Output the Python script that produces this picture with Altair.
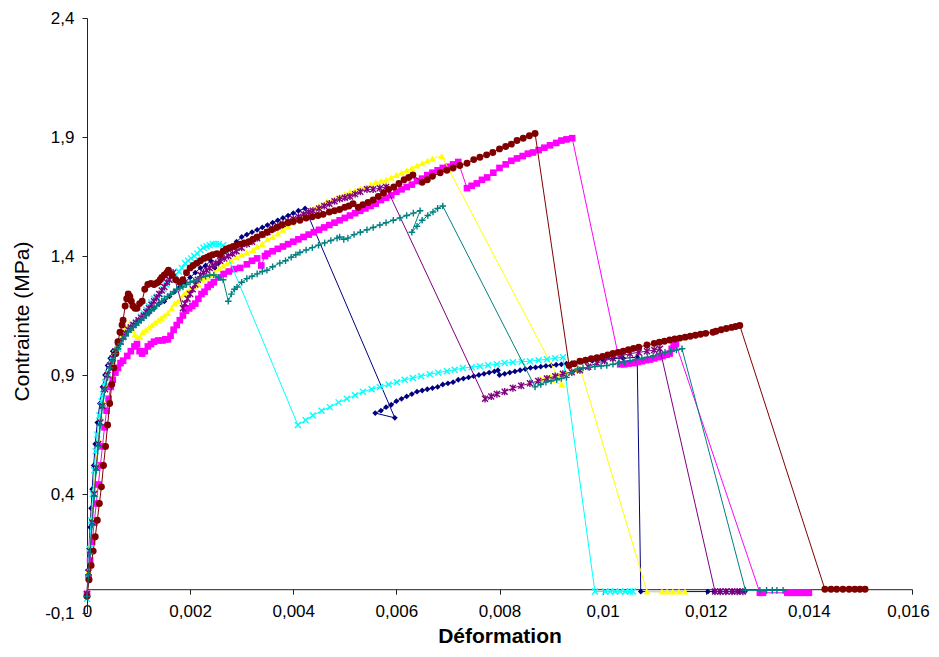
import altair as alt
import pandas as pd

# ---- data (strain, stress MPa) ----
navy = [[0,-0.02],[0.00002,0.08],[0.00004,0.17],[0.00006,0.26],[0.00008,0.34],[0.0001,0.42],[0.00013,0.52],[0.00016,0.61],[0.0002,0.70],[0.00025,0.78],[0.0003,0.85],[0.00035,0.90],[0.0004,0.94],[0.00045,0.97],[0.0005,1.00],[0.0006,1.04],[0.0007,1.07],[0.0008,1.09],[0.0009,1.11],[0.001,1.13],[0.0011,1.15],[0.0012,1.16],[0.0013,1.18],[0.0014,1.20],[0.0015,1.21],[0.0016,1.23],[0.0017,1.25],[0.0018,1.27],[0.0019,1.29],[0.002,1.31],[0.0021,1.33],[0.0022,1.35],[0.0023,1.36],[0.0024,1.38],[0.00248,1.35],[0.00255,1.37],[0.0026,1.40],[0.0027,1.42],[0.0028,1.44],[0.0029,1.46],[0.003,1.48],[0.0031,1.49],[0.0032,1.50],[0.0033,1.51],[0.0034,1.52],[0.0035,1.53],[0.0036,1.54],[0.0037,1.55],[0.0038,1.56],[0.0039,1.57],[0.004,1.58],[0.0041,1.59],[0.00423,1.60],
        [0.00597,0.72],[0.00559,0.74],[0.0057,0.75],[0.0058,0.765],[0.0059,0.775],[0.006,0.79],[0.0061,0.80],[0.0062,0.81],[0.0063,0.82],[0.0064,0.83],[0.0065,0.835],[0.0066,0.84],[0.0067,0.845],[0.0068,0.85],[0.0069,0.86],[0.007,0.865],[0.0071,0.87],[0.0072,0.88],[0.0073,0.885],[0.0074,0.89],[0.0075,0.895],[0.0076,0.90],[0.0077,0.905],[0.0078,0.91],[0.0079,0.915],[0.00797,0.92],[0.0080,0.90],[0.0081,0.905],[0.0082,0.91],[0.0083,0.915],[0.0084,0.92],[0.0085,0.925],[0.0086,0.93],[0.0087,0.932],[0.0088,0.935],[0.0089,0.938],[0.009,0.94],[0.0091,0.943],[0.0092,0.945],[0.0093,0.948],[0.0094,0.95],[0.0096,0.955],[0.0098,0.96],[0.01,0.965],[0.0102,0.97],[0.0104,0.97],[0.01067,0.975],
        [0.01074,-0.01],[0.01204,-0.01],[0.01216,-0.01],[0.01228,-0.01],[0.0124,-0.01],[0.01252,-0.01],[0.01264,-0.01],[0.01276,-0.01]]

magenta = [[0,-0.02],[0.00003,0.05],[0.00006,0.12],[0.0001,0.2],[0.00014,0.28],[0.00018,0.36],[0.00022,0.44],[0.00026,0.52],[0.0003,0.6],[0.00034,0.68],[0.00038,0.75],[0.00042,0.8],[0.00046,0.85],[0.0005,0.88],[0.00055,0.91],[0.0006,0.93],[0.00065,0.95],[0.0007,0.96],[0.00078,0.98],[0.00085,1.0],[0.00092,1.02],[0.00097,1.03],[0.00102,1.0],[0.00107,0.99],[0.00112,1.0],[0.00118,1.02],[0.00124,1.03],[0.0013,1.04],[0.00138,1.045],[0.00146,1.045],[0.00152,1.05],[0.00157,1.05],[0.00162,1.065],[0.00168,1.09],[0.00174,1.11],[0.0018,1.13],[0.00186,1.15],[0.00192,1.17],[0.00198,1.18],[0.00204,1.19],[0.0021,1.20],[0.00216,1.22],[0.00222,1.24],[0.00228,1.25],[0.00234,1.27],[0.0024,1.28],[0.00246,1.29],[0.00255,1.31],[0.00265,1.325],[0.00275,1.335],[0.00285,1.345],[0.00297,1.35],[0.0031,1.365],[0.0032,1.38],[0.0033,1.39],[0.00338,1.36],[0.00345,1.40],[0.0035,1.41],[0.0036,1.42],[0.0037,1.43],[0.0038,1.44],[0.0039,1.45],[0.004,1.46],[0.0041,1.47],[0.0042,1.48],[0.0043,1.49],[0.0044,1.50],[0.0045,1.51],[0.0046,1.52],[0.0047,1.53],[0.0048,1.54],[0.0049,1.55],[0.005,1.56],[0.0051,1.57],[0.0052,1.58],[0.0053,1.59],[0.0054,1.60],[0.0055,1.61],[0.0056,1.62],[0.0057,1.635],[0.0058,1.645],[0.0059,1.655],[0.006,1.67],[0.0061,1.68],[0.0062,1.69],[0.0063,1.70],[0.0064,1.715],[0.0065,1.725],[0.0066,1.74],[0.0067,1.75],[0.0068,1.76],[0.0069,1.77],[0.007,1.775],[0.0071,1.785],[0.0072,1.795],
           [0.00737,1.685],[0.00746,1.695],[0.00756,1.705],[0.00766,1.72],[0.00776,1.73],[0.00788,1.75],[0.008,1.77],[0.00812,1.785],[0.00823,1.80],[0.00834,1.81],[0.00845,1.82],[0.00855,1.83],[0.00865,1.835],[0.00876,1.845],[0.00887,1.855],[0.00898,1.865],[0.0091,1.875],[0.0092,1.885],[0.0093,1.89],[0.00941,1.895],
           [0.01034,0.945],[0.01042,0.945],[0.0105,0.948],[0.0106,0.95],[0.01068,0.955],[0.01076,0.958],[0.01084,0.962],[0.01092,0.965],[0.011,0.97],[0.01108,0.975],[0.01116,0.98],[0.01124,0.985],[0.0113,0.99],[0.01134,1.01],[0.01138,1.025],[0.01142,1.03],
           [0.01305,-0.015],[0.01311,-0.015],[0.01358,-0.015],[0.01364,-0.015],[0.0137,-0.015],[0.01376,-0.015],[0.01382,-0.015],[0.01388,-0.015],[0.01394,-0.015],[0.014,-0.015]]

yellow = [[0,-0.02],[0.00003,0.08],[0.00006,0.18],[0.0001,0.3],[0.00014,0.42],[0.00018,0.53],[0.00022,0.63],[0.00026,0.72],[0.0003,0.79],[0.00035,0.86],[0.0004,0.91],[0.00045,0.95],[0.0005,0.98],[0.00055,1.01],[0.0006,1.03],[0.00065,1.05],[0.0007,1.07],[0.00074,1.09],[0.00078,1.10],[0.00083,1.12],[0.00088,1.09],[0.00093,1.07],[0.00098,1.06],[0.00103,1.06],[0.00108,1.08],[0.00114,1.09],[0.0012,1.10],[0.00126,1.11],[0.00132,1.12],[0.00138,1.13],[0.00144,1.14],[0.0015,1.15],[0.00157,1.16],[0.00164,1.18],[0.0017,1.20],[0.00176,1.21],[0.00182,1.22],[0.00188,1.24],[0.00194,1.25],[0.002,1.26],[0.00208,1.27],[0.00216,1.28],[0.00224,1.30],[0.00232,1.31],[0.0024,1.32],[0.00248,1.33],[0.00256,1.35],[0.00264,1.36],[0.00272,1.37],[0.0028,1.38],[0.0029,1.395],[0.003,1.405],[0.0031,1.415],[0.00322,1.425],[0.0033,1.44],[0.0034,1.45],[0.0035,1.47],[0.0036,1.48],[0.0037,1.495],[0.0038,1.51],[0.0039,1.525],[0.004,1.54],[0.0041,1.555],[0.0042,1.57],[0.0043,1.585],[0.0044,1.60],[0.0045,1.61],[0.00465,1.63],[0.0048,1.64],[0.0049,1.65],[0.005,1.66],[0.0051,1.67],[0.0052,1.675],[0.0053,1.685],[0.0054,1.69],[0.0055,1.70],[0.0056,1.71],[0.0057,1.715],[0.0058,1.72],[0.0059,1.73],[0.006,1.74],[0.0061,1.75],[0.0062,1.76],[0.0063,1.77],[0.0064,1.78],[0.0065,1.79],[0.0066,1.80],[0.0067,1.81],[0.00688,1.82],
          [0.00921,0.86],[0.00879,0.885],[0.00888,0.89],[0.00898,0.895],[0.00908,0.90],[0.00918,0.905],[0.00928,0.91],[0.00938,0.915],[0.00948,0.92],[0.00957,0.925],
          [0.01086,-0.01],[0.01115,-0.01],[0.01125,-0.01],[0.01136,-0.01],[0.01148,-0.01],[0.0116,-0.01]]

cyan = [[0,-0.04],[0.00002,0.05],[0.00005,0.17],[0.00008,0.29],[0.00011,0.40],[0.00014,0.50],[0.00017,0.58],[0.0002,0.65],[0.00024,0.73],[0.00028,0.79],[0.00031,0.82],[0.00035,0.87],[0.0004,0.91],[0.00045,0.94],[0.0005,0.96],[0.00055,0.99],[0.0006,1.01],[0.00065,1.04],[0.0007,1.06],[0.00075,1.075],[0.0008,1.09],[0.00085,1.10],[0.0009,1.11],[0.00095,1.12],[0.001,1.13],[0.00105,1.145],[0.0011,1.16],[0.00115,1.175],[0.0012,1.19],[0.00125,1.205],[0.0013,1.22],[0.00136,1.23],[0.00142,1.24],[0.00148,1.26],[0.00154,1.28],[0.0016,1.30],[0.00166,1.31],[0.00172,1.32],[0.00178,1.335],[0.00184,1.35],[0.0019,1.37],[0.00196,1.38],[0.00202,1.39],[0.00208,1.40],[0.00214,1.41],[0.0022,1.425],[0.00226,1.435],[0.00232,1.44],[0.00238,1.445],[0.00244,1.45],[0.0025,1.45],[0.00256,1.45],[0.00264,1.445],
        [0.00409,0.69],[0.00424,0.71],[0.00438,0.73],[0.00455,0.75],[0.00471,0.765],[0.00488,0.785],[0.00504,0.80],[0.0052,0.815],[0.00535,0.83],[0.00552,0.84],[0.00568,0.85],[0.00585,0.86],[0.00601,0.87],[0.00616,0.88],[0.00632,0.887],[0.00648,0.895],[0.00665,0.903],[0.00681,0.91],[0.00698,0.916],[0.00713,0.922],[0.00729,0.929],[0.00746,0.933],[0.00762,0.937],[0.00778,0.941],[0.00795,0.945],[0.0081,0.95],[0.00826,0.954],[0.00843,0.956],[0.00859,0.958],[0.00876,0.962],[0.00892,0.966],[0.00908,0.97],[0.00923,0.975],
        [0.00985,-0.01],[0.01005,-0.01],[0.01015,-0.01],[0.01024,-0.01],[0.01034,-0.01],[0.01044,-0.01],[0.01053,-0.01],[0.01059,-0.01]]

purple = [[0,-0.02],[0.00003,0.07],[0.00006,0.16],[0.0001,0.28],[0.00014,0.40],[0.00018,0.51],[0.00022,0.61],[0.00026,0.70],[0.0003,0.77],[0.00035,0.84],[0.0004,0.90],[0.00045,0.94],[0.0005,0.97],[0.00055,1.0],[0.0006,1.02],[0.00065,1.04],[0.0007,1.06],[0.00075,1.075],[0.0008,1.09],[0.00085,1.10],[0.0009,1.11],[0.00095,1.12],[0.001,1.13],[0.00105,1.14],[0.0011,1.15],[0.00115,1.165],[0.0012,1.18],[0.00125,1.195],[0.0013,1.21],[0.00135,1.225],[0.0014,1.24],[0.00145,1.255],[0.0015,1.27],[0.00155,1.29],[0.0016,1.30],[0.00167,1.33],[0.00186,1.18],[0.0019,1.20],[0.00195,1.22],[0.002,1.24],[0.00205,1.26],[0.0021,1.28],[0.00215,1.30],[0.0022,1.32],[0.00226,1.33],[0.00232,1.34],[0.00238,1.35],[0.00244,1.36],[0.0025,1.37],[0.00258,1.38],[0.00266,1.39],[0.00274,1.40],[0.00282,1.41],[0.0029,1.42],[0.003,1.435],[0.0031,1.45],[0.0032,1.46],[0.0033,1.475],[0.0034,1.49],[0.0035,1.50],[0.0036,1.515],[0.0037,1.525],[0.0038,1.535],[0.0039,1.545],[0.004,1.555],[0.0041,1.565],[0.0042,1.575],[0.0043,1.585],[0.00438,1.59],[0.0045,1.60],[0.0046,1.61],[0.0047,1.62],[0.0048,1.63],[0.0049,1.64],[0.005,1.645],[0.0051,1.65],[0.0052,1.66],[0.0053,1.67],[0.00543,1.68],[0.00555,1.68],[0.00568,1.685],[0.0058,1.69],
          [0.00772,0.80],[0.00784,0.81],[0.00795,0.82],[0.0081,0.83],[0.00826,0.845],[0.00842,0.855],[0.00859,0.865],[0.00875,0.875],[0.00892,0.885],[0.00908,0.895],[0.00923,0.905],[0.0094,0.912],[0.00956,0.92],[0.00972,0.935],[0.00989,0.95],[0.01004,0.96],[0.0102,0.97],[0.01036,0.98],[0.01053,0.99],[0.0107,0.995],[0.01086,1.0],[0.011,1.005],[0.01111,1.01],
          [0.01218,-0.01],[0.01228,-0.01],[0.01239,-0.01],[0.01251,-0.01],[0.01261,-0.01],[0.01272,-0.01]]

maroon = [[0,-0.03],[0.00004,0.04],[0.00008,0.1],[0.00012,0.16],[0.00016,0.22],[0.0002,0.29],[0.00024,0.36],[0.00028,0.43],[0.00032,0.52],[0.00036,0.6],[0.0004,0.69],[0.00044,0.78],[0.00048,0.86],[0.00052,0.93],[0.00056,0.99],[0.0006,1.04],[0.00064,1.08],[0.00068,1.11],[0.0007,1.13],[0.00074,1.19],[0.00077,1.22],[0.0008,1.24],[0.00083,1.23],[0.00086,1.21],[0.00089,1.19],[0.00093,1.18],[0.00097,1.18],[0.00102,1.20],[0.00107,1.21],[0.00112,1.26],[0.00118,1.28],[0.00124,1.285],[0.0013,1.28],[0.00134,1.285],[0.00138,1.29],[0.00142,1.30],[0.00145,1.31],[0.0015,1.32],[0.00155,1.33],[0.00158,1.34],[0.00165,1.32],[0.00172,1.30],[0.0018,1.29],[0.00186,1.30],[0.00193,1.33],[0.002,1.35],[0.00206,1.36],[0.00213,1.37],[0.0022,1.38],[0.00227,1.39],[0.00233,1.395],[0.00238,1.40],[0.00244,1.405],[0.00252,1.41],[0.00258,1.405],[0.00264,1.42],[0.0027,1.43],[0.00277,1.435],[0.00284,1.44],[0.0029,1.445],[0.00297,1.45],[0.00305,1.455],[0.00314,1.46],[0.00322,1.47],[0.0033,1.48],[0.0034,1.49],[0.00349,1.50],[0.00358,1.51],[0.00368,1.52],[0.00378,1.53],[0.0039,1.54],[0.004,1.545],[0.00413,1.55],[0.00425,1.56],[0.00437,1.565],[0.00448,1.57],[0.00458,1.575],[0.0047,1.585],[0.0048,1.59],[0.0049,1.595],[0.005,1.605],[0.00508,1.61],[0.00516,1.62],[0.00526,1.605],[0.00535,1.615],[0.00545,1.625],[0.00555,1.635],[0.00565,1.65],[0.00575,1.665],[0.00585,1.68],[0.00595,1.69],[0.00605,1.705],[0.00615,1.72],[0.00624,1.73],[0.00632,1.74],[0.0065,1.71],[0.0066,1.72],[0.0067,1.735],[0.00685,1.75],[0.00698,1.76],[0.0071,1.77],[0.00723,1.78],[0.00737,1.79],[0.0075,1.805],[0.00762,1.815],[0.00775,1.825],[0.00787,1.835],[0.008,1.85],[0.00812,1.86],[0.00823,1.87],[0.00834,1.885],[0.00846,1.895],[0.00858,1.905],[0.00869,1.915],
          [0.00935,0.94],[0.00945,0.947],[0.00956,0.958],[0.00967,0.962],[0.00978,0.968],[0.00989,0.973],[0.01,0.978],[0.0101,0.984],[0.0102,0.99],[0.0103,0.995],[0.0104,1.0],[0.0105,1.006],[0.0106,1.012],[0.0107,1.017],[0.01086,1.026],[0.011,1.033],[0.0111,1.038],[0.0112,1.042],[0.0113,1.047],[0.0114,1.051],[0.0115,1.055],[0.0116,1.059],[0.0117,1.063],[0.0118,1.067],[0.0119,1.071],[0.012,1.075],[0.01214,1.08],[0.0122,1.084],[0.0123,1.09],[0.0124,1.095],[0.0125,1.1],[0.01258,1.104],[0.01266,1.108],
          [0.01431,0.0],[0.01443,0.0],[0.01454,0.0],[0.01466,0.0],[0.01478,0.0],[0.01489,0.0],[0.01499,0.0],[0.01509,0.0]]

teal = [[0,-0.03],[0.00003,0.06],[0.00006,0.15],[0.0001,0.27],[0.00014,0.39],[0.00018,0.5],[0.00022,0.6],[0.00026,0.69],[0.0003,0.77],[0.00035,0.84],[0.0004,0.89],[0.00045,0.93],[0.0005,0.96],[0.00055,0.99],[0.0006,1.01],[0.00065,1.03],[0.0007,1.05],[0.00075,1.065],[0.0008,1.08],[0.00085,1.09],[0.0009,1.10],[0.00095,1.11],[0.001,1.12],[0.00105,1.13],[0.0011,1.14],[0.00115,1.15],[0.0012,1.16],[0.00125,1.17],[0.0013,1.18],[0.00135,1.19],[0.0014,1.20],[0.00145,1.21],[0.0015,1.22],[0.00156,1.23],[0.00162,1.24],[0.00168,1.25],[0.00174,1.26],[0.0018,1.265],[0.00186,1.27],[0.00193,1.28],[0.002,1.29],[0.00207,1.295],[0.00214,1.30],[0.00222,1.31],[0.0023,1.315],[0.00238,1.32],[0.00246,1.32],[0.00255,1.31],[0.00264,1.30],[0.00274,1.21],[0.0028,1.24],[0.00286,1.26],[0.00291,1.27],[0.003,1.29],[0.0031,1.305],[0.0032,1.315],[0.0033,1.325],[0.0034,1.335],[0.00349,1.34],[0.0036,1.355],[0.00374,1.37],[0.00385,1.38],[0.00396,1.395],[0.00405,1.405],[0.00413,1.415],[0.00425,1.425],[0.00437,1.435],[0.00449,1.445],[0.00461,1.455],[0.00473,1.465],[0.00485,1.475],[0.0049,1.48],[0.00498,1.47],[0.00506,1.475],[0.00518,1.49],[0.0053,1.50],[0.00543,1.51],[0.00555,1.52],[0.00568,1.53],[0.0058,1.54],[0.00594,1.55],[0.00607,1.56],[0.0062,1.57],[0.00633,1.58],[0.00646,1.59],[0.0063,1.50],[0.0064,1.525],[0.0065,1.55],[0.00661,1.57],[0.00671,1.585],[0.0068,1.60],[0.0069,1.61],
        [0.00869,0.85],[0.0088,0.86],[0.0089,0.87],[0.009,0.875],[0.00911,0.88],[0.0092,0.885],[0.0093,0.89],[0.0094,0.91],[0.00952,0.925],[0.00962,0.93],[0.00974,0.932],[0.00985,0.935],[0.00997,0.938],[0.01008,0.94],[0.0102,0.945],[0.01031,0.95],[0.01042,0.955],[0.01053,0.96],[0.01064,0.965],[0.01076,0.97],[0.01087,0.975],[0.01098,0.98],[0.0111,0.99],[0.01121,0.995],[0.01132,1.0],[0.01143,1.005],[0.01154,1.01],
        [0.01277,-0.005],[0.01305,-0.005],[0.01318,-0.005],[0.01329,-0.005],[0.01338,-0.005],[0.0135,-0.005]]

x_ticks = [0, 0.002, 0.004, 0.006, 0.008, 0.01, 0.012, 0.014, 0.016]
y_ticks = [-0.1, 0.4, 0.9, 1.4, 1.9, 2.4]

X_SHAPE = "M-1,-1L1,1M-1,1L1,-1"
STAR_SHAPE = "M-1,-1L1,1M-1,1L1,-1M0,-1.2L0,1.2"
PLUS_SHAPE = "M-1.2,0L1.2,0M0,-1.2L0,1.2"

series = [
    (navy, "#000080", "diamond", 34, True),
    (magenta, "#FF00FF", "square", 44, True),
    (yellow, "#FFFF00", "triangle-up", 48, True),
    (cyan, "#00FFFF", X_SHAPE, 36, False),
    (purple, "#800080", STAR_SHAPE, 36, False),
    (maroon, "#800000", "circle", 48, True),
    (teal, "#008080", PLUS_SHAPE, 30, False),
]

FONT = "Liberation Sans"
PLOT_W, PLOT_H = 825, 595

x_axis = alt.Axis(
    values=x_ticks, labelExpr="replace(toString(datum.value), '.', ',')",
    offset=-PLOT_H * 0.1 / 2.5, grid=False, domainColor="#222", tickColor="#222",
    tickSize=5, labelFont=FONT, labelFontSize=17, labelColor="#000",
    labelPadding=9, labelFlush=False, labelOverlap=False,
    labelOffset={"condition": {"test": "datum.value >= 0.016", "value": -4}, "value": 0},
    title="Déformation", titleFont=FONT, titleFontSize=21, titleFontWeight="bold",
    titleColor="#000", titleY=47, titleBaseline="middle",
)
y_axis = alt.Axis(
    values=y_ticks, labelExpr="replace(toString(datum.value), '.', ',')",
    grid=False, domainColor="#222", tickColor="#222", tickSize=5,
    labelFont=FONT, labelFontSize=17, labelColor="#000", labelPadding=8,
    labelFlush=False, labelOverlap=False,
    title="Contrainte (MPa)", titleFont=FONT, titleFontSize=21,
    titleFontWeight="normal", titleColor="#000", titleX=-65, titleY=303,
    titleBaseline="middle",
)

xs = alt.Scale(domain=[0, 0.016], nice=False, zero=False)
ys = alt.Scale(domain=[-0.1, 2.4], nice=False, zero=False)

layers = []
for pts, color, shape, size, filled in series:
    df = pd.DataFrame(pts, columns=["x", "y"])
    df["i"] = range(len(df))
    base = alt.Chart(df).encode(
        x=alt.X("x:Q", scale=xs, axis=x_axis),
        y=alt.Y("y:Q", scale=ys, axis=y_axis),
        order=alt.Order("i:Q"),
    )
    layers.append(base.mark_line(color=color, strokeWidth=1))
    if filled:
        layers.append(base.mark_point(shape=shape, size=size, filled=True,
                                      color=color, opacity=1, strokeWidth=0.5))
    else:
        layers.append(base.mark_point(shape=shape, size=size, filled=False,
                                      color=color, opacity=1, strokeWidth=1.4))

chart = alt.layer(*layers).properties(
    width=PLOT_W, height=PLOT_H,
    autosize=alt.AutoSizeParams(type="none"),
    padding={"left": 79, "top": 10, "right": 19, "bottom": 36},
    background="white",
).configure_view(stroke=None)

chart.save("out.html", embed_options={"renderer": "svg", "actions": False})
